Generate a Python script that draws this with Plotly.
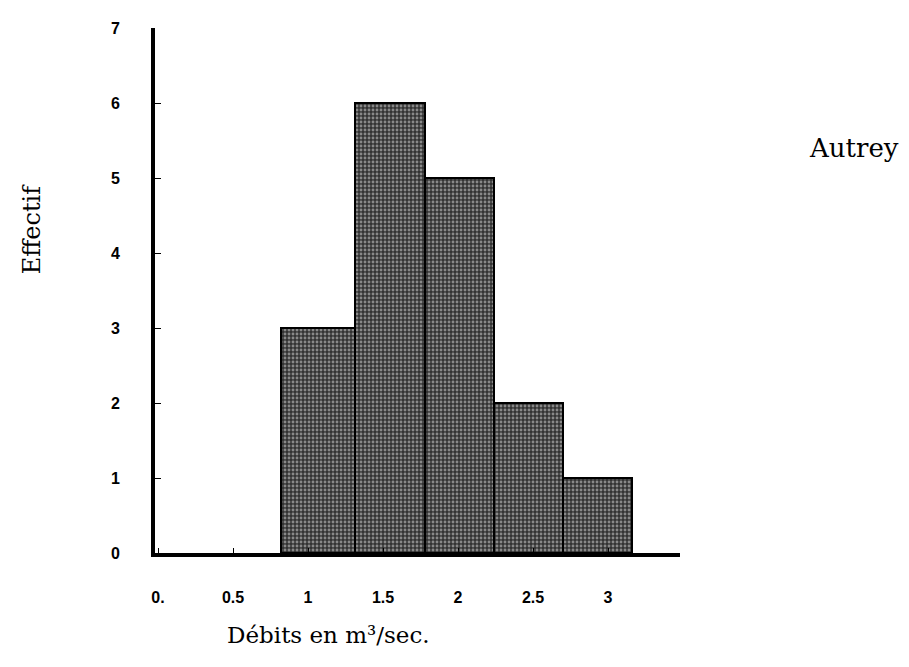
import plotly.graph_objects as go

# histogram of discharges (Autrey)
bin_edges = [0.82, 1.31, 1.78, 2.24, 2.70, 3.16]
counts = [3, 6, 5, 2, 1]
x_ticks = [0, 0.5, 1, 1.5, 2, 2.5, 3]
x_ticklabels = ["0.", "0.5", "1", "1.5", "2", "2.5", "3"]
y_ticks = [0, 1, 2, 3, 4, 5, 6, 7]

centers = [(a + b) / 2 for a, b in zip(bin_edges[:-1], bin_edges[1:])]
widths = [b - a for a, b in zip(bin_edges[:-1], bin_edges[1:])]

# page offset (body margin) and plot box in page pixels
off = 8
left, right, top, bottom = 155, 680, 21, 553
W, H = 909, 667
plot_w = right - left
plot_h = bottom - top


def px(x, y):
    return (x - left) / plot_w, (bottom - y) / plot_h


fig = go.Figure()
fig.add_trace(go.Bar(
    x=centers, y=counts, width=widths,
    marker=dict(
        color="#333333",
        line=dict(color="black", width=2),
        pattern=dict(shape=".", fgcolor="#e0e0e0", bgcolor="#333333",
                     size=4, solidity=0.4),
    ),
    showlegend=False,
))

ann = []
for text, x, y, size, fam, ang in [
    ("Effectif", 32, 225, 24, "DejaVu Serif", -90),
    ("Autrey", 854, 143, 26, "DejaVu Serif", 0),
    ("Débits en m³/sec.", 328, 636, 23, "DejaVu Serif", 0),
]:
    ax, ay = px(x, y)
    ann.append(dict(text=text, x=ax, y=ay, xref="paper", yref="paper",
                    xanchor="center", yanchor="middle", textangle=ang,
                    showarrow=False, font=dict(size=size, family=fam)))

fig.update_layout(
    width=W, height=H,
    margin=dict(l=left - off, r=W - right + off, t=top - off, b=H - bottom + off),
    plot_bgcolor="white", paper_bgcolor="white",
    bargap=0,
    font=dict(family="DejaVu Sans", color="black"),
    xaxis=dict(
        range=[-0.02, 3.48], tickvals=x_ticks, ticktext=x_ticklabels,
        showline=True, linecolor="black", linewidth=4,
        ticks="inside", ticklen=5, tickcolor="black", tickwidth=1,
        showgrid=False, zeroline=False,
        ticklabelstandoff=27,
        tickfont=dict(size=16, family="Liberation Sans", weight="bold"),
    ),
    yaxis=dict(
        range=[0, 7], tickvals=y_ticks,
        showline=True, linecolor="black", linewidth=4,
        ticks="inside", ticklen=6, tickcolor="black", tickwidth=1,
        showgrid=False, zeroline=False,
        ticklabelstandoff=28,
        tickfont=dict(size=16, family="Liberation Sans", weight="bold"),
    ),
    annotations=ann,
)

fig.write_html("out.html")
